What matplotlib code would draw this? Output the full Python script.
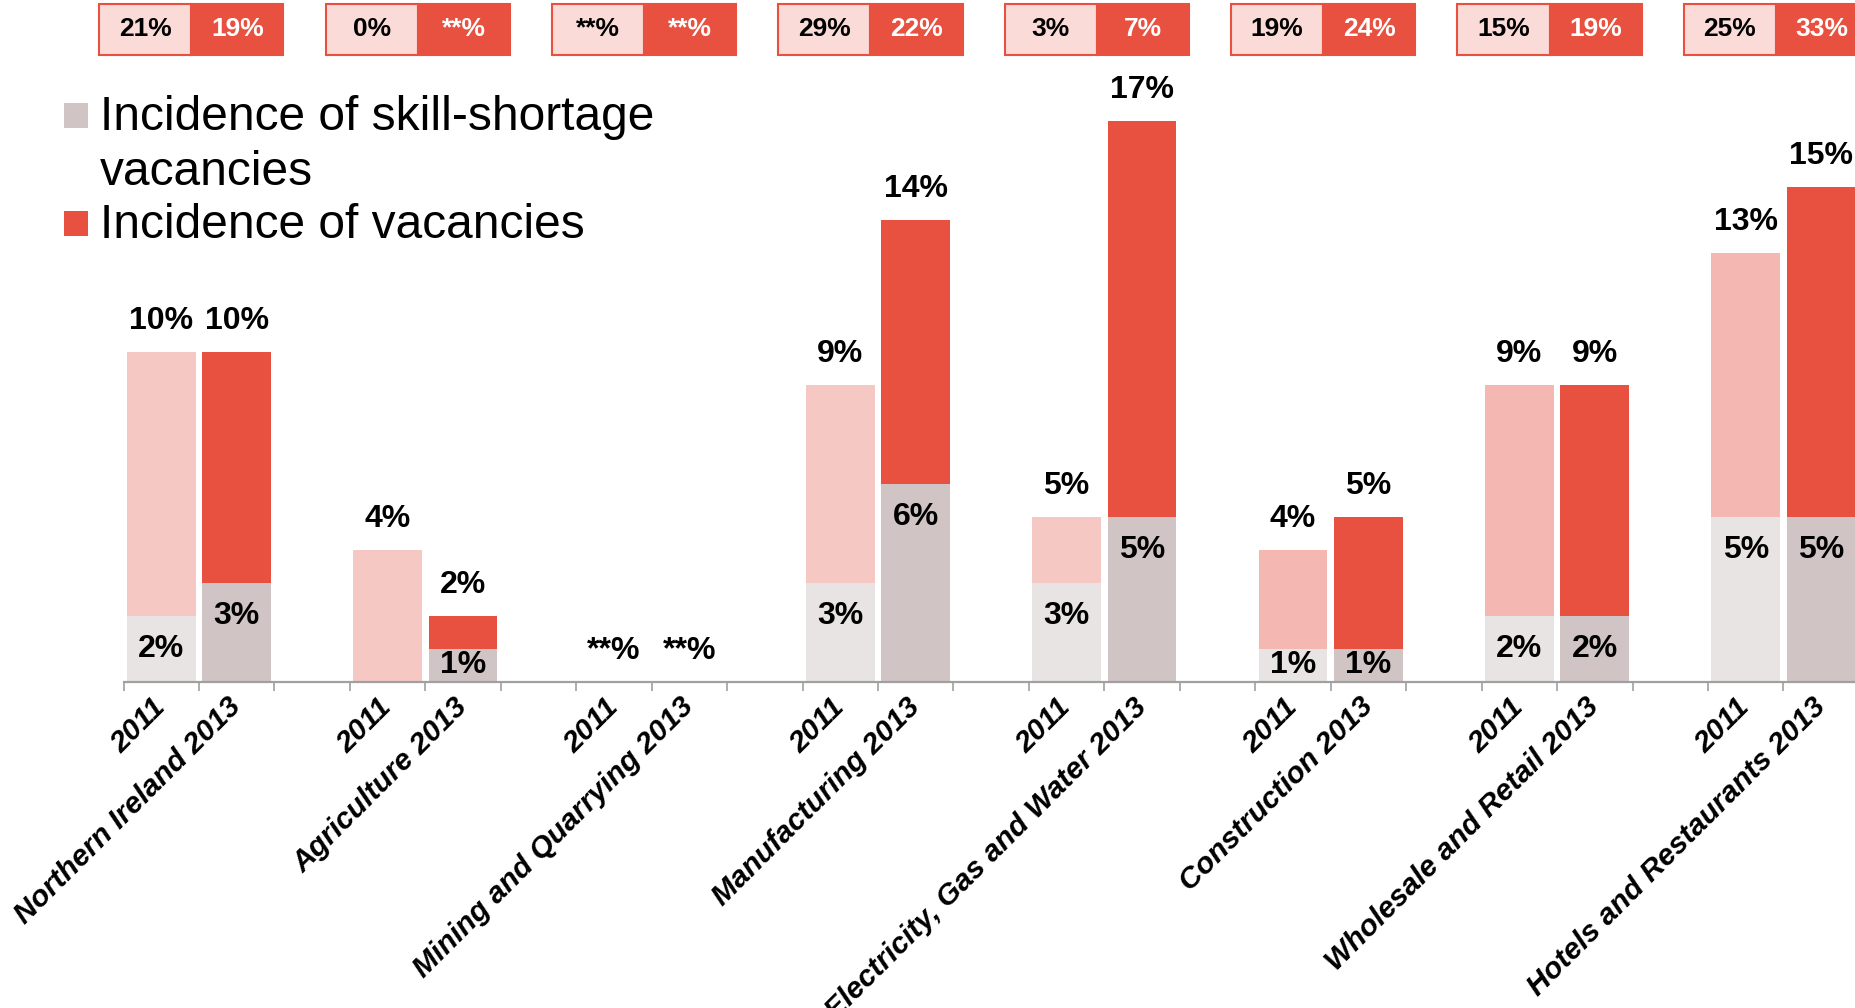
import numpy as np
import matplotlib.pyplot as plt
import matplotlib.transforms as mtransforms
from matplotlib.patches import Rectangle

plt.rcParams['font.family'] = ['Liberation Sans', 'DejaVu Sans']

sectors = ['Northern Ireland', 'Agriculture', 'Mining and Quarrying', 'Manufacturing',
           'Electricity, Gas and Water', 'Construction', 'Wholesale and Retail',
           'Hotels and Restaurants']

# incidence of vacancies, % of establishments (nan = suppressed, shown as **%)
vac_2011 = [10, 4, np.nan, 9, 5, 4, 9, 13]
vac_2013 = [10, 2, np.nan, 14, 17, 5, 9, 15]
# incidence of skill-shortage vacancies
ssv_2011 = [2, np.nan, np.nan, 3, 3, 1, 2, 5]
ssv_2013 = [3, 1, np.nan, 6, 5, 1, 2, 5]

# figures in the boxes along the top (2011 / 2013)
box_2011 = ['21%', '0%', '**%', '29%', '3%', '19%', '15%', '25%']
box_2013 = ['19%', '**%', '**%', '22%', '7%', '24%', '19%', '33%']

RED = '#E8513F'
GREY = '#D0C4C4'
GREY_LIGHT = '#E9E4E4'
BOX_FILL = '#FADBD8'
pink_2011 = ['#F6C8C3'] * 5 + ['#F5B7B1'] * 3

W, H = 1855, 1008
fig = plt.figure(figsize=(W / 100, H / 100), dpi=100)
ax = fig.add_axes([123.5 / W, (H - 681.6) / H, 23 * 75.45 / W, 20 * 33 / H])
ax.set_xlim(0, 23)
ax.set_ylim(0, 20)

bw = 0.91
lbl = dict(ha='center', va='center', fontsize=23, fontweight='bold', color='black')


def pct(v):
    return '**%' if np.isnan(v) else f'{v:.0f}%'


def draw_bar(x, total, skill, c_total, c_skill):
    if not np.isnan(total):
        ax.bar(x, total, width=bw, color=c_total, linewidth=0)
    if not np.isnan(skill):
        ax.bar(x, skill, width=bw, color=c_skill, linewidth=0)
        ax.text(x, max(skill - 1, skill / 2), pct(skill), **lbl)
    top = 0 if np.isnan(total) else total
    ax.annotate(pct(total), (x, top), xytext=(0, 22), textcoords='offset points',
                annotation_clip=False, **lbl)


for i in range(len(sectors)):
    draw_bar(3 * i + 0.5, vac_2011[i], ssv_2011[i], pink_2011[i], GREY_LIGHT)
    draw_bar(3 * i + 1.5, vac_2013[i], ssv_2013[i], RED, GREY)

# axis: ticks on slot boundaries, labels on slot centres
for s in ['top', 'left', 'right']:
    ax.spines[s].set_visible(False)
ax.spines['bottom'].set_color('#A0A0A0')
ax.spines['bottom'].set_linewidth(1.6)
ax.set_yticks([])
ax.set_xticks(np.arange(24))
ax.set_xticklabels([])
ax.tick_params(axis='x', which='major', length=6.5, width=1.2, color='#A0A0A0')

pos, names = [], []
for i, s in enumerate(sectors):
    pos += [3 * i + 0.5, 3 * i + 1.5]
    names += ['2011', f'{s} 2013']
ax.set_xticks(pos, minor=True)
ax.set_xticklabels(names, minor=True, rotation=45, ha='right', va='center',
                   rotation_mode='anchor', fontsize=21.5, fontweight='bold',
                   fontstyle='italic')
ax.tick_params(axis='x', which='minor', length=0, pad=15)

# boxes along the top
trans = mtransforms.blended_transform_factory(ax.transData, fig.transFigure)
bx_w = 1.22
y0, y1 = (H - 55) / H, (H - 4) / H
for i in range(len(sectors)):
    xc = 3 * i + 0.9
    ax.add_patch(Rectangle((xc - bx_w, y0), bx_w, y1 - y0, transform=trans,
                           facecolor=BOX_FILL, edgecolor=RED, linewidth=1.5, clip_on=False))
    ax.add_patch(Rectangle((xc, y0), bx_w, y1 - y0, transform=trans,
                           facecolor=RED, edgecolor=RED, linewidth=1.5, clip_on=False))
    ym = (y0 + y1) / 2
    ax.text(xc - bx_w / 2, ym, box_2011[i], transform=trans, ha='center', va='center',
            fontsize=19, fontweight='bold', color='black')
    ax.text(xc + bx_w / 2, ym, box_2013[i], transform=trans, ha='center', va='center',
            fontsize=19, fontweight='bold', color='white')

# legend
fig.patches.append(Rectangle((64 / W, (H - 128) / H), 24 / W, 25 / H,
                             transform=fig.transFigure, facecolor=GREY, edgecolor='none'))
fig.patches.append(Rectangle((64 / W, (H - 236) / H), 24 / W, 25 / H,
                             transform=fig.transFigure, facecolor=RED, edgecolor='none'))
fig.text(100 / W, (H - 145) / H, 'Incidence of skill-shortage\nvacancies',
         ha='left', va='center', fontsize=34.5, linespacing=1.28)
fig.text(100 / W, (H - 225) / H, 'Incidence of vacancies',
         ha='left', va='center', fontsize=34.5)

fig.savefig('out.png', dpi=100)
